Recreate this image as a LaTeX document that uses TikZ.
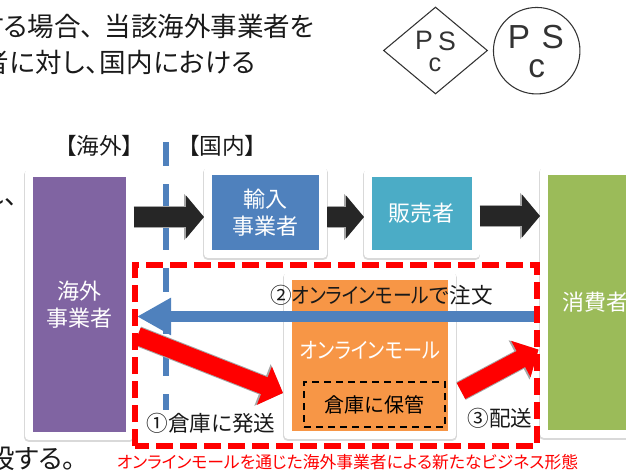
\documentclass[tikz,border=0pt]{standalone}
\usepackage{fontspec}
\setmainfont{Noto Sans CJK JP}[RawFeature=+palt]
\newfontfamily\marksans{Liberation Sans}
\newfontfamily\narrowkana{Noto Sans CJK JP}[RawFeature=+palt, FakeStretch=0.87]
\usetikzlibrary{arrows.meta}
\usetikzlibrary{shapes.geometric}
\def\px{0.75pt}
\newcommand{\touten}{、\kern.4em}
\definecolor{purplebox}{HTML}{8064A2}
\definecolor{bluebox}{HTML}{4F81BD}
\definecolor{tealbox}{HTML}{4BACC6}
\definecolor{greenbox}{HTML}{9BBB59}
\definecolor{orangebox}{HTML}{F79646}
\tikzset{
  panel/.style={draw=white, line width=6pt, line join=round, inner sep=0pt, text=white, align=center,
    font=\fontsize{16.5}{20}\selectfont,
    preaction={draw=black!15, line width=6.9pt, line join=round, transform canvas={yshift=-1.2pt}}},
  bodytext/.style={font=\fontsize{19.9}{24}\selectfont, text=black!90, inner sep=0pt},
  steptext/.style={font=\fontsize{16.2}{20}\selectfont, text=black!90, inner sep=0pt},
  darkarrow/.style={line width=15pt, color=black!85, -{Triangle[length=13.5pt,width=31.5pt]},
    preaction={draw=gray!70, line width=16.8pt, -{Triangle[length=15pt,width=34pt]}}},
  redarrow/.style={line width=13.5pt, color=red, -{Triangle[length=15pt,width=30pt]},
    preaction={draw=gray!70, line width=15pt, -{Triangle[length=16.5pt,width=32.5pt]}}}
}
\begin{document}
\begin{tikzpicture}[x=\px, y=-\px]
 \useasboundingbox (0, 0) rectangle (626, 471);
  % text around the figure
  \node[bodytext, anchor=east] (lineone) at (315, 26) {する場合\touten 当該海外事業者を};
  \node[bodytext, anchor=east] (linetwo) at (256, 62) {\addfontfeature{LetterSpace=2}者に対し、国内における};
  \node[bodytext, anchor=east] (lineside) at (18, 195) {れ、};
  \node[bodytext, anchor=east] (linelast) at (76, 459) {設する。};
  % marks
  \node[diamond, draw=black!80, line width=.8pt, minimum width=104*\px, minimum height=87*\px, inner sep=0pt, aspect=1.2] (diamondmark) at (435.5, 50.5) {};
  \node[circle, draw=black!80, line width=.8pt, minimum size=86.5*\px, inner sep=0pt] (circlemark) at (536.7, 50.7) {};
  \foreach \letter/\myx/\myy/\mysize in {P/424/40.5/20, S/447/41/20, c/435/64.5/19, P/519/37/25, S/552.7/37/25, c/536.7/68.5/25}{
  \node[font=\marksans\fontsize{\mysize}{\mysize}\selectfont, text=black!80, inner sep=0pt] at (\myx, \myy) {\letter};
  }
  % headers and border line
  \node[font=\fontsize{17}{20}\selectfont, text=black!90, inner sep=0pt] (overseaslabel) at (99.5, 146) {【海外】};
  \node[font=\fontsize{17}{20}\selectfont, text=black!90, inner sep=0pt] (domesticlabel) at (222, 146) {【国内】};
  \coordinate (bordertop) at (166, 142);
  \coordinate (borderend) at (166, 410);
  \draw[bluebox, line width=4.5pt, dash pattern=on 18pt off 13.5pt] (bordertop) -- (borderend);
  % boxes
  \node[panel, fill=purplebox, minimum width=100.5*\px, minimum height=263*\px] (overseas) at (79.25, 304.5) {海外\\事業者};
  \node[panel, fill=bluebox, minimum width=115*\px, minimum height=83*\px] (importer) at (265.5, 212.5) {輸入\\事業者};
  \node[panel, fill=tealbox, minimum width=107.5*\px, minimum height=81*\px] (seller) at (421.75, 213.5) {販売者};
  \node[panel, fill=greenbox, minimum width=102*\px, minimum height=263*\px] (consumer) at (595, 302.5) {消費者};
  \node[panel, fill=orangebox, minimum width=164*\px, minimum height=159*\px] (mallbox) at (370, 355.5) {};
  \node[font=\narrowkana\fontsize{16.5}{20}\selectfont, text=white, inner sep=0pt] (malltext) at (370, 350) {オンラインモール};
  \node[draw=black, dash pattern=on 5.5pt off 3.5pt, line width=1.1pt, minimum width=141*\px, minimum height=45*\px, inner sep=0pt, font=\fontsize{15}{18}\selectfont] (store) at (374.5, 404.5) {倉庫に保管};
  % arrows
  \draw[darkarrow] (overseas.east |- 0, 217) -- (importer.west |- 0, 217);
  \draw[darkarrow] (importer.east |- 0, 217) -- (seller.west |- 0, 217);
  \draw[darkarrow] (seller.east |- 0, 216) -- (consumer.west |- 0, 216);
  \coordinate (ordertail) at (535, 316.5);
  \coordinate (ordertip) at (137, 316.5);
  \draw[bluebox, line width=8.3pt, -{Triangle[length=25.5pt,width=26.3pt]}] (ordertail) -- (ordertip);
  \coordinate (shiptail) at (137.5, 336);
  \coordinate (shiptip) at (283, 393);
  \draw[redarrow] (shiptail) -- (shiptip);
  \coordinate (delivertail) at (461, 391);
  \coordinate (delivertip) at (538.5, 349.6);
  \draw[redarrow] (delivertail) -- (delivertip);
  % frame
  \draw[red, line width=4.5pt, dash pattern=on 12.5pt off 5.5pt, line join=miter] (135, 446) -- (135, 265) -- (537, 265) -- (537, 446) -- cycle;
  % step labels
  \node[steptext] (steporder) at (381.5, 295) {②{\narrowkana オンラインモール}で注文};
  \node[steptext] (stepship) at (211, 423) {①倉庫に発送};
  \node[steptext] (stepdeliver) at (500, 418) {③配送};
  \node[font=\fontsize{12.6}{15}\selectfont, text=red, inner sep=0pt] (caption) at (347.5, 462) {オンラインモールを通じた海外事業者による新たなビジネス形態};
 \end{tikzpicture}
\end{document}
